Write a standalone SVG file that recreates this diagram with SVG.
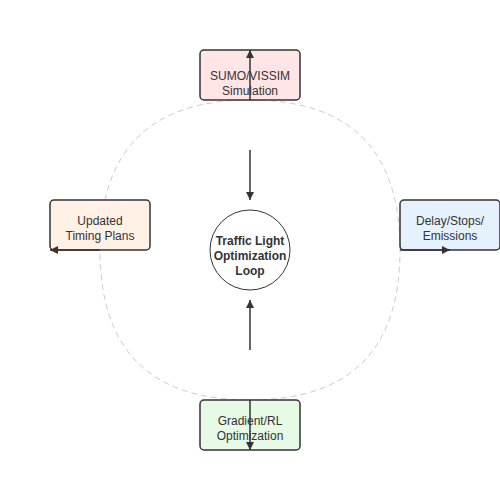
<svg xmlns="http://www.w3.org/2000/svg" width="500" height="500" viewBox="0 0 500 500">
<style>
.node rect{stroke:#333;stroke-width:1.5}
.lbl{font-family:"Liberation Sans",Arial,sans-serif;font-size:12px;fill:#333;text-anchor:middle}
.bold{font-weight:bold}
.conn line{stroke:#333;stroke-width:1.5;marker-end:url(#ah)}
</style>
<defs>
<marker id="ah" viewBox="0 0 10 10" refX="10" refY="5" markerWidth="8" markerHeight="8" markerUnits="userSpaceOnUse" orient="auto">
<path d="M0,0 L10,5 L0,10 Z" fill="#333"/>
</marker>
</defs>
<rect width="500" height="500" fill="#fff"/>
<path id="loop-path" d="M250,100 C350,100 400,150 400,250 C400,350 350,400 250,400 C150,400 100,350 100,250 C100,150 150,100 250,100 Z" fill="none" stroke="#ccc" stroke-width="1" stroke-dasharray="6 4"/>
<g id="center" class="node">
<circle cx="250" cy="250" r="40" fill="#fff" stroke="#333" stroke-width="1"/>
<text class="lbl bold" x="250" y="245">Traffic Light</text>
<text class="lbl bold" x="250" y="260">Optimization</text>
<text class="lbl bold" x="250" y="275">Loop</text>
</g>
<g id="sim" class="node">
<rect x="200" y="50" width="100" height="50" rx="4" fill="#ffe5e5"/>
<text class="lbl" x="250" y="80">SUMO/VISSIM</text>
<text class="lbl" x="250" y="95">Simulation</text>
</g>
<g id="metrics" class="node">
<rect x="400" y="200" width="100" height="50" rx="4" fill="#e5f1fd"/>
<text class="lbl" x="450" y="225">Delay/Stops/</text>
<text class="lbl" x="450" y="240">Emissions</text>
</g>
<g id="opt" class="node">
<rect x="200" y="400" width="100" height="50" rx="4" fill="#e6fae6"/>
<text class="lbl" x="250" y="425">Gradient/RL</text>
<text class="lbl" x="250" y="440">Optimization</text>
</g>
<g id="plans" class="node">
<rect x="50" y="200" width="100" height="50" rx="4" fill="#fff1e6"/>
<text class="lbl" x="100" y="225">Updated</text>
<text class="lbl" x="100" y="240">Timing Plans</text>
</g>
<g id="connectors" class="conn">
<line x1="250" y1="100" x2="250" y2="50"/>
<line x1="250" y1="150" x2="250" y2="200"/>
<line x1="400" y1="250" x2="450" y2="250"/>
<line x1="250" y1="350" x2="250" y2="300"/>
<line x1="250" y1="400" x2="250" y2="450"/>
<line x1="100" y1="250" x2="50" y2="250"/>
</g>
</svg>
